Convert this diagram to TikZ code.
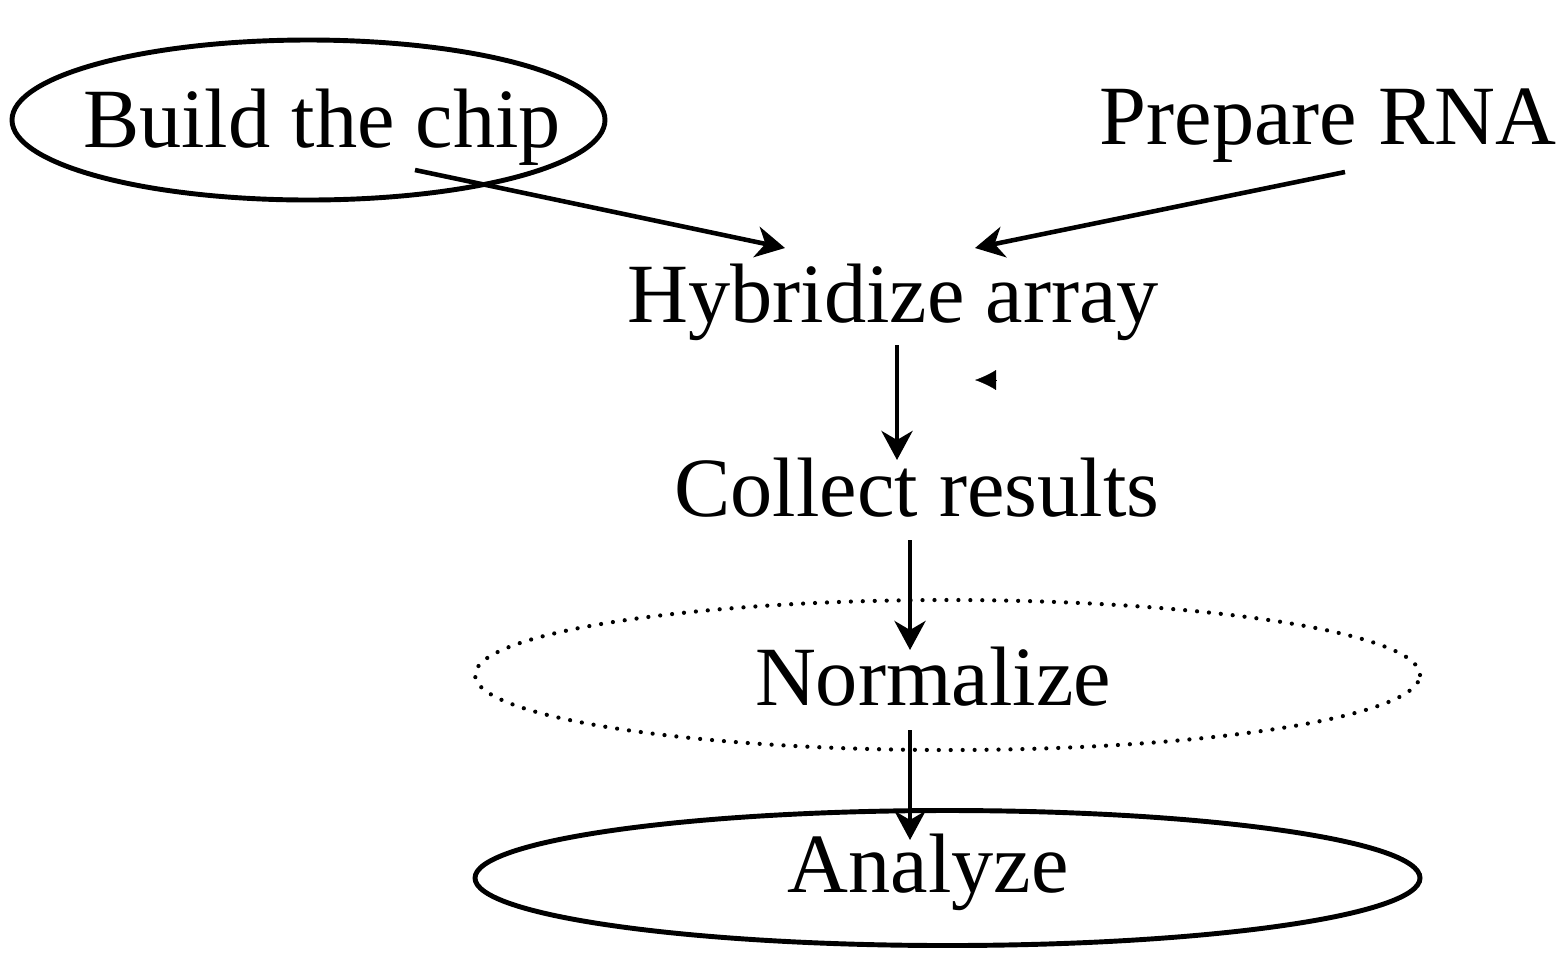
\documentclass[tikz,border=0pt]{standalone}
\usepackage{fontspec}
\setmainfont{Liberation Serif}
\usetikzlibrary{positioning,arrows.meta,shapes.geometric}

\begin{document}
\begin{tikzpicture}[
		stage/.style={font=\fontsize{24}{28}\selectfont, inner sep=0pt},
		ring/.style={ellipse, draw, line width=1.4pt, inner sep=0pt},
		flow/.style={line width=1.3pt, -{Stealth[length=2.9mm, width=3.1mm, inset=0.9mm]}}]
		\useasboundingbox (0,0) rectangle (15.65,-9.52);
		\node[ring, minimum width=5.93cm, minimum height=1.6cm] (chipring) at (3.085,-1.2) {};
		\node[ring, line width=1.2pt, line cap=round, dash pattern=on 0pt off 3.4pt,
		      minimum width=9.45cm, minimum height=1.5cm] (normring) at (9.475,-6.75) {};
		\node[ring, minimum width=9.45cm, minimum height=1.35cm] (anaring) at (9.475,-8.78) {};
		\node[stage] (chip) at (3.22,-1.27) {Build the chip};
		\node[stage] (rna) at (13.28,-1.26) {Prepare RNA};
		\node[stage] (hyb) at (8.93,-3.02) {Hybridize array};
		\node[stage] (col) at (9.17,-4.88) {Collect results};
		\node[stage] (norm) at (9.33,-6.77) {Normalize};
		\node[stage] (ana) at (9.28,-8.72) {Analyze};
		\coordinate (chipout) at (4.15,-1.70);
		\coordinate (rnaout) at (13.45,-1.72);
		\coordinate (hybin1) at (7.85,-2.48);
		\coordinate (hybin2) at (9.75,-2.48);
		\coordinate (hybout) at (8.97,-3.45);
		\coordinate (colin) at (8.97,-4.60);
		\coordinate (colout) at (9.10,-5.40);
		\coordinate (normin) at (9.10,-6.50);
		\coordinate (normout) at (9.10,-7.30);
		\coordinate (anain) at (9.10,-8.40);
		\coordinate (stray) at (9.96,-3.80);
		\coordinate (straytip) at (9.75,-3.80);
		\draw[flow] (chipout) -- (hybin1);
		\draw[flow] (rnaout) -- (hybin2);
		\draw[flow] (hybout) -- (colin);
		\draw[flow] (colout) -- (normin);
		\draw[flow] (normout) -- (anain);
		\draw[line width=0.1pt, -{Latex[length=2.1mm, width=2mm]}] (stray) -- (straytip);
	\end{tikzpicture}
\end{document}
